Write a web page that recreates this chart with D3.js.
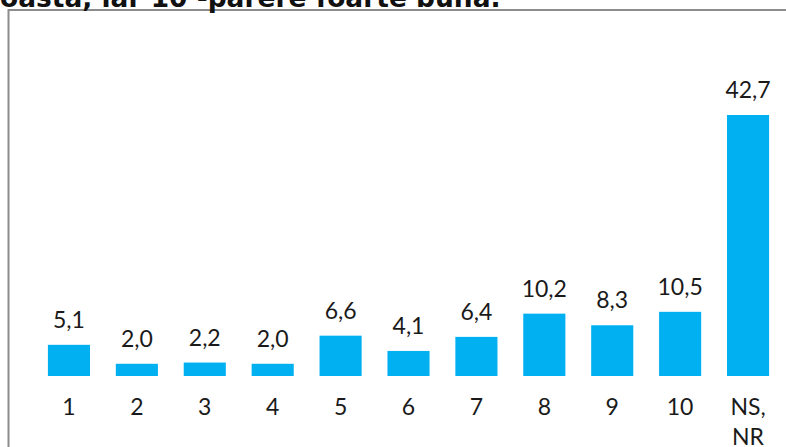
<!DOCTYPE html>
<html><head><meta charset="utf-8">
<script src="https://cdn.jsdelivr.net/npm/d3@7"></script>
<style>html,body{margin:0;padding:0;background:#fff;overflow:hidden}</style>
</head><body>
<svg id="c" width="786" height="447"></svg>
<script>
const categories = ["1","2","3","4","5","6","7","8","9","10","NS, NR"];
const values = [5.1, 2.0, 2.2, 2.0, 6.6, 4.1, 6.4, 10.2, 8.3, 10.5, 42.7];
const titleHidden = "1 - părere foarte pr";
const titleVisible = "oastă, iar 10 -părere foarte bună.";

const svg = d3.select("#c");
const fmt = v => d3.format(".1f")(v).replace(".", ",");

// frame
svg.append("rect").attr("x", 8.5).attr("y", 10).attr("width", 800).attr("height", 460)
  .attr("fill", "none").attr("stroke", "#8c8c8c").attr("stroke-width", 2);

// title (cut off at top)
const tFont = "'DejaVu Sans', sans-serif";
function measure(str, size) {
  const p = svg.append("text").attr("font-family", tFont).attr("font-weight", "bold")
    .attr("font-size", size).text(str);
  const w = p.node().getComputedTextLength();
  p.remove();
  return w;
}
const tSize = 20 * 407 / measure("oastă, iar 10 -părere foarte", 20);
const offset = measure(titleHidden, tSize);
svg.append("text").attr("x", -offset).attr("y", 7)
  .attr("font-family", tFont).attr("font-weight", "bold")
  .attr("font-size", tSize).attr("fill", "#111").text(titleHidden + titleVisible);

const x = d3.scaleBand().domain(categories).range([35, 782]).paddingInner(0.38).paddingOuter(0.19);
const y = d3.scaleLinear().domain([0, 42.7]).range([376, 115]);

svg.selectAll("rect.bar").data(values).join("rect").attr("class", "bar")
  .attr("x", (d, i) => x(categories[i])).attr("width", x.bandwidth())
  .attr("y", d => y(d)).attr("height", d => y(0) - y(d))
  .attr("fill", "#00B0F0");

const font = "Lato, 'Open Sans', sans-serif";
svg.selectAll("text.val").data(values).join("text").attr("class", "val")
  .attr("x", (d, i) => x(categories[i]) + x.bandwidth() / 2)
  .attr("y", d => y(d) - 17)
  .attr("text-anchor", "middle").attr("font-family", font).attr("font-size", 23)
  .attr("fill", "#1a1a1a").text(fmt);

const cl = svg.selectAll("text.cat").data(categories).join("text").attr("class", "cat")
  .attr("x", d => x(d) + x.bandwidth() / 2).attr("y", 415)
  .attr("text-anchor", "middle").attr("font-family", font).attr("font-size", 23)
  .attr("fill", "#1a1a1a");
cl.each(function(d) {
  const parts = d.split(" ");
  const t = d3.select(this);
  parts.forEach((p, k) => t.append("tspan").attr("x", x(d) + x.bandwidth() / 2)
    .attr("dy", k === 0 ? 0 : 30).text(p));
});
</script>
</body></html>
